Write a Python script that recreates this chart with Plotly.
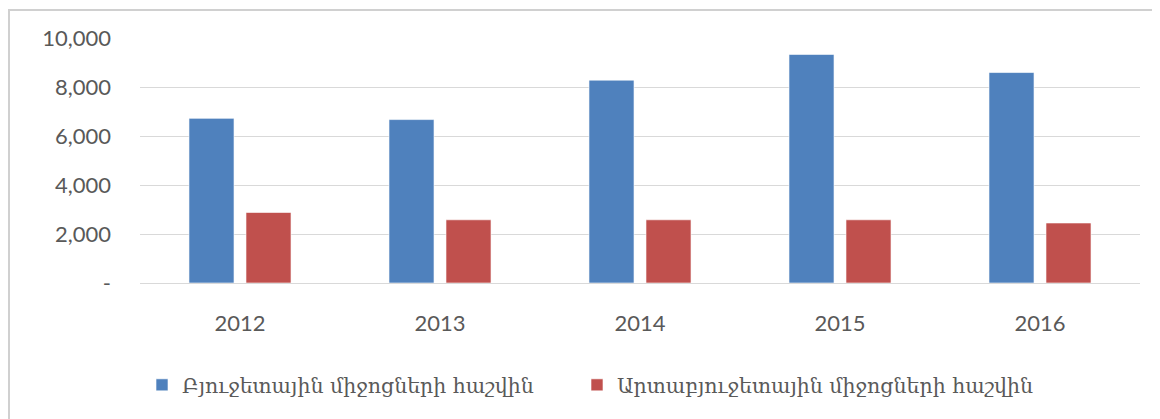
import plotly.graph_objects as go

years = ["2012", "2013", "2014", "2015", "2016"]
budget_vals = [6720, 6670, 8280, 9330, 8590]
extra_vals = [2880, 2580, 2580, 2580, 2450]
series_names = ["Բյուջետային միջոցների հաշվին", "Արտաբյուջետային միջոցների հաշվին"]
y_ticks = [0, 2000, 4000, 6000, 8000, 10000]
y_tick_labels = ["-", "2,000", "4,000", "6,000", "8,000", "10,000"]

OFF = 8  # page body margin
W, H = 1160 - OFF, 419 - OFF
L, T = 140 - OFF, 38 - OFF
R = W - (1140 - OFF)
B = H - (283 - OFF)
pw, ph = W - L - R, H - T - B

def px(x):  # image pixel -> paper x
    return (x - OFF - L) / pw

def py(y):  # image pixel -> paper y
    return (H - B - (y - OFF)) / ph

fig = go.Figure()
fig.add_trace(go.Bar(x=years, y=budget_vals, name=series_names[0],
                     marker=dict(color="#4F81BD", line=dict(color="rgba(255,255,255,0.6)", width=1)),
                     legend="legend"))
fig.add_trace(go.Bar(x=years, y=extra_vals, name=series_names[1],
                     marker=dict(color="#C0504D", line=dict(color="rgba(255,255,255,0.6)", width=1)),
                     legend="legend2"))

legend_font = dict(family="DejaVu Serif", size=20.5, color="#595959")
fig.update_layout(
    width=W, height=H,
    margin=dict(l=L, r=R, t=T, b=B),
    paper_bgcolor="white", plot_bgcolor="white",
    barmode="group", bargap=0.43, bargroupgap=0.21,
    showlegend=True,
    legend=dict(x=px(142), y=py(385), xanchor="left", yanchor="middle",
                orientation="h", font=legend_font, bgcolor="rgba(0,0,0,0)"),
    legend2=dict(x=px(577), y=py(385), xanchor="left", yanchor="middle",
                 orientation="h", font=legend_font, bgcolor="rgba(0,0,0,0)"),
    xaxis=dict(type="category", showgrid=False, showline=False, ticks="",
               tickfont=dict(family="Lato", size=22, color="#595959"),
               ticklabelstandoff=25),
    yaxis=dict(range=[0, 10000], tickvals=y_ticks, ticktext=y_tick_labels,
               showgrid=True, gridcolor="#D9D9D9", gridwidth=1.3,
               zeroline=True, zerolinecolor="#D9D9D9", zerolinewidth=1.3,
               showline=False, ticks="",
               tickfont=dict(family="Lato", size=22, color="#595959"),
               ticklabelstandoff=28),
    shapes=[dict(type="rect", xref="paper", yref="paper",
                 x0=px(9), x1=px(1175), y0=py(440), y1=py(10),
                 line=dict(color="#D0D0D0", width=2), fillcolor="rgba(0,0,0,0)",
                 layer="below")],
)

fig.write_html("out.html")
